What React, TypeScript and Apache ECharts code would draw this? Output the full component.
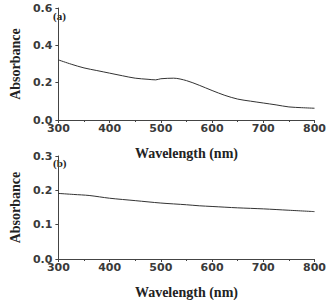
import React, { useEffect, useRef } from "react";
import * as echarts from "echarts";

// Absorbance spectra, panels (a) and (b)
const wavelengthA = [300, 325, 350, 375, 400, 425, 450, 475, 490, 500, 525, 550, 575, 600, 625, 650, 675, 700, 725, 750, 775, 800];
const absorbanceA = [0.322, 0.299, 0.279, 0.265, 0.251, 0.237, 0.224, 0.218, 0.215, 0.221, 0.224, 0.211, 0.186, 0.158, 0.132, 0.112, 0.101, 0.091, 0.081, 0.07, 0.066, 0.063];

const wavelengthB = [300, 330, 360, 400, 450, 500, 550, 575, 600, 650, 700, 750, 800];
const absorbanceB = [0.191, 0.188, 0.185, 0.177, 0.17, 0.163, 0.158, 0.155, 0.153, 0.149, 0.146, 0.142, 0.138];

const xTicks = [300, 400, 500, 600, 700, 800];
const panelLabels = ["(a)", "(b)"];

const tickFont = {
  fontFamily: "'DejaVu Sans', Verdana, sans-serif",
  fontWeight: "bold" as const,
  fontSize: 11,
  color: "#3a3a3a",
};
const titleFont = {
  fontFamily: "'Liberation Serif', serif",
  fontWeight: "bold" as const,
  fontSize: 14,
  color: "#222",
};

export default function App() {
  const ref = useRef<HTMLDivElement>(null);

  useEffect(() => {
    if (!ref.current) return;
    const chart = echarts.init(ref.current, null, { renderer: "svg" });

    const xAxis = (gridIndex: number) => ({
      type: "value",
      gridIndex,
      min: xTicks[0],
      max: xTicks[xTicks.length - 1],
      interval: 100,
      name: "Wavelength (nm)",
      nameLocation: "middle",
      nameGap: 26,
      nameTextStyle: titleFont,
      axisLine: { lineStyle: { color: "#444", width: 1 } },
      axisTick: { show: true, length: 3, lineStyle: { color: "#444" } },
      minorTick: { show: true, splitNumber: 2, length: 2, lineStyle: { color: "#444" } },
      axisLabel: { ...tickFont, margin: 3, formatter: (v: number) => String(v) },
      splitLine: { show: false },
    });

    const yAxis = (gridIndex: number, max: number, interval: number) => ({
      type: "value",
      gridIndex,
      min: 0,
      max,
      interval,
      name: "Absorbance",
      nameLocation: "middle",
      nameGap: 36,
      nameTextStyle: titleFont,
      axisLine: { show: true, lineStyle: { color: "#444", width: 1 } },
      axisTick: { show: true, length: 3, lineStyle: { color: "#444" } },
      axisLabel: { ...tickFont, margin: 6, formatter: (v: number) => v.toFixed(1) },
      splitLine: { show: false },
    });

    const panelText = (text: string, top: number) => ({
      type: "text",
      left: 53,
      top,
      style: { text, fontFamily: "'Liberation Serif', serif", fontWeight: "bold", fontSize: 11, fill: "#222" },
    });

    chart.setOption({
      animation: false,
      backgroundColor: "#fff",
      grid: [
        { left: 49, top: 8, width: 267, height: 112 },
        { left: 49, top: 156, width: 268, height: 112 },
      ],
      xAxis: [xAxis(0), xAxis(1)],
      yAxis: [yAxis(0, 0.6, 0.2), yAxis(1, 0.3, 0.1)],
      graphic: [panelText(panelLabels[0], 10), panelText(panelLabels[1], 157)],
      series: [
        {
          type: "line",
          xAxisIndex: 0,
          yAxisIndex: 0,
          data: wavelengthA.map((w, i) => [w, absorbanceA[i]]),
          showSymbol: false,
          smooth: 0.3,
          lineStyle: { color: "#333", width: 1 },
        },
        {
          type: "line",
          xAxisIndex: 1,
          yAxisIndex: 1,
          data: wavelengthB.map((w, i) => [w, absorbanceB[i]]),
          showSymbol: false,
          smooth: 0.3,
          lineStyle: { color: "#333", width: 1 },
        },
      ],
    });

    return () => chart.dispose();
  }, []);

  return <div ref={ref} style={{ width: 329, height: 300, position: "absolute", left: 0, top: 0 }} />;
}
